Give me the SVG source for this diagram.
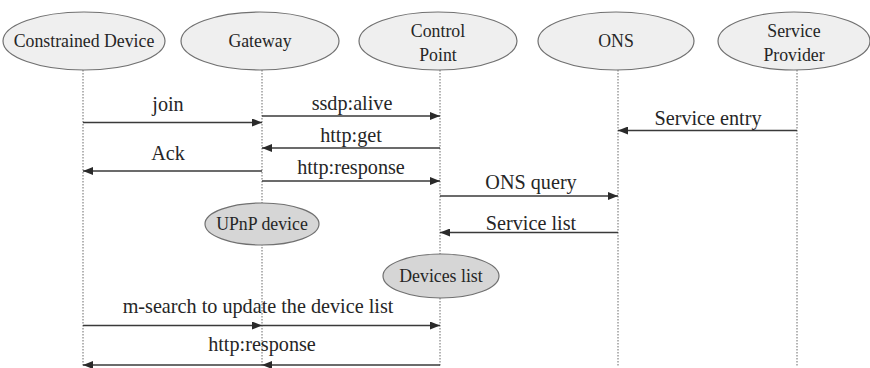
<svg xmlns="http://www.w3.org/2000/svg" width="870" height="368" viewBox="0 0 870 368">
  <style>
    .actor { fill: #efefef; stroke: #707070; stroke-width: 1.2; }
    .state { fill: #d6d6d6; stroke: #707070; stroke-width: 1.2; }
    .life { stroke: #6a6a6a; stroke-width: 1; stroke-dasharray: 1.5 1.5; fill: none; }
    .msg { stroke: #3a3a3a; stroke-width: 1.6; fill: none; marker-end: url(#head); }
    .nt { font-size: 17.8px; fill: #262626; text-anchor: middle; }
    .mt { font-size: 20.2px; fill: #262626; text-anchor: middle; }
  </style>
  <defs>
    <marker id="head" viewBox="0 0 10 8" refX="10" refY="4" markerWidth="10" markerHeight="8" markerUnits="userSpaceOnUse" orient="auto">
      <path d="M0,0 L10,4 L0,8 Z" fill="#2a2a2a"/>
    </marker>
  </defs>
  <rect width="870" height="368" fill="#ffffff"/>

  <!-- lifelines -->
  <g id="lifelines">
    <line class="life" x1="83" y1="70" x2="83" y2="366"/>
    <line class="life" x1="262" y1="70" x2="262" y2="366"/>
    <line class="life" x1="440" y1="70" x2="440" y2="366"/>
    <line class="life" x1="618" y1="70" x2="618" y2="366"/>
    <line class="life" x1="797" y1="70" x2="797" y2="366"/>
  </g>

  <g font-family="Liberation Serif, Times New Roman, serif">
    <!-- participants -->
    <g id="constrained-device">
      <ellipse class="actor" cx="84" cy="41" rx="81" ry="29"/>
      <text class="nt" x="84" y="47">Constrained Device</text>
    </g>
    <g id="gateway">
      <ellipse class="actor" cx="260" cy="41" rx="79" ry="29"/>
      <text class="nt" x="260" y="47">Gateway</text>
    </g>
    <g id="control-point">
      <ellipse class="actor" cx="438" cy="41" rx="79" ry="29"/>
      <text class="nt" x="438" y="37">Control</text>
      <text class="nt" x="438" y="61">Point</text>
    </g>
    <g id="ons">
      <ellipse class="actor" cx="616" cy="41" rx="78" ry="29"/>
      <text class="nt" x="616" y="47">ONS</text>
    </g>
    <g id="service-provider">
      <ellipse class="actor" cx="794" cy="41" rx="76" ry="29"/>
      <text class="nt" x="794" y="37">Service</text>
      <text class="nt" x="794" y="61">Provider</text>
    </g>

    <!-- state markers on lifelines -->
    <g id="upnp-device">
      <ellipse class="state" cx="262" cy="224" rx="57" ry="21"/>
      <text class="nt" x="262" y="230">UPnP device</text>
    </g>
    <g id="devices-list">
      <ellipse class="state" cx="441" cy="276" rx="58" ry="22"/>
      <text class="nt" x="441" y="282">Devices list</text>
    </g>

    <!-- messages -->
    <g id="connectors">
      <line class="msg" x1="83" y1="122.5" x2="262" y2="122.5"/>
      <line class="msg" x1="262" y1="116" x2="440" y2="116"/>
      <line class="msg" x1="440" y1="148" x2="262" y2="148"/>
      <line class="msg" x1="262" y1="171" x2="83" y2="171"/>
      <line class="msg" x1="262" y1="181" x2="440" y2="181"/>
      <line class="msg" x1="797" y1="130.5" x2="618" y2="130.5"/>
      <line class="msg" x1="440" y1="196" x2="618" y2="196"/>
      <line class="msg" x1="618" y1="232.5" x2="440" y2="232.5"/>
      <line class="msg" x1="83" y1="325.5" x2="262" y2="325.5"/>
      <line class="msg" x1="262" y1="325.5" x2="440" y2="325.5"/>
      <line class="msg" x1="440" y1="365" x2="262" y2="365"/>
      <line class="msg" x1="262" y1="365" x2="83" y2="365"/>
    </g>

    <!-- message labels -->
    <g id="labels">
      <text class="mt" x="168" y="111">join</text>
      <text class="mt" x="352" y="110">ssdp:alive</text>
      <text class="mt" x="351" y="142">http:get</text>
      <text class="mt" x="168" y="160">Ack</text>
      <text class="mt" x="351" y="174">http:response</text>
      <text class="mt" x="708" y="125">Service entry</text>
      <text class="mt" x="531" y="189">ONS query</text>
      <text class="mt" x="531" y="230">Service list</text>
      <text class="mt" x="258" y="313">m-search to update the device list</text>
      <text class="mt" x="262" y="351">http:response</text>
    </g>
  </g>
</svg>
